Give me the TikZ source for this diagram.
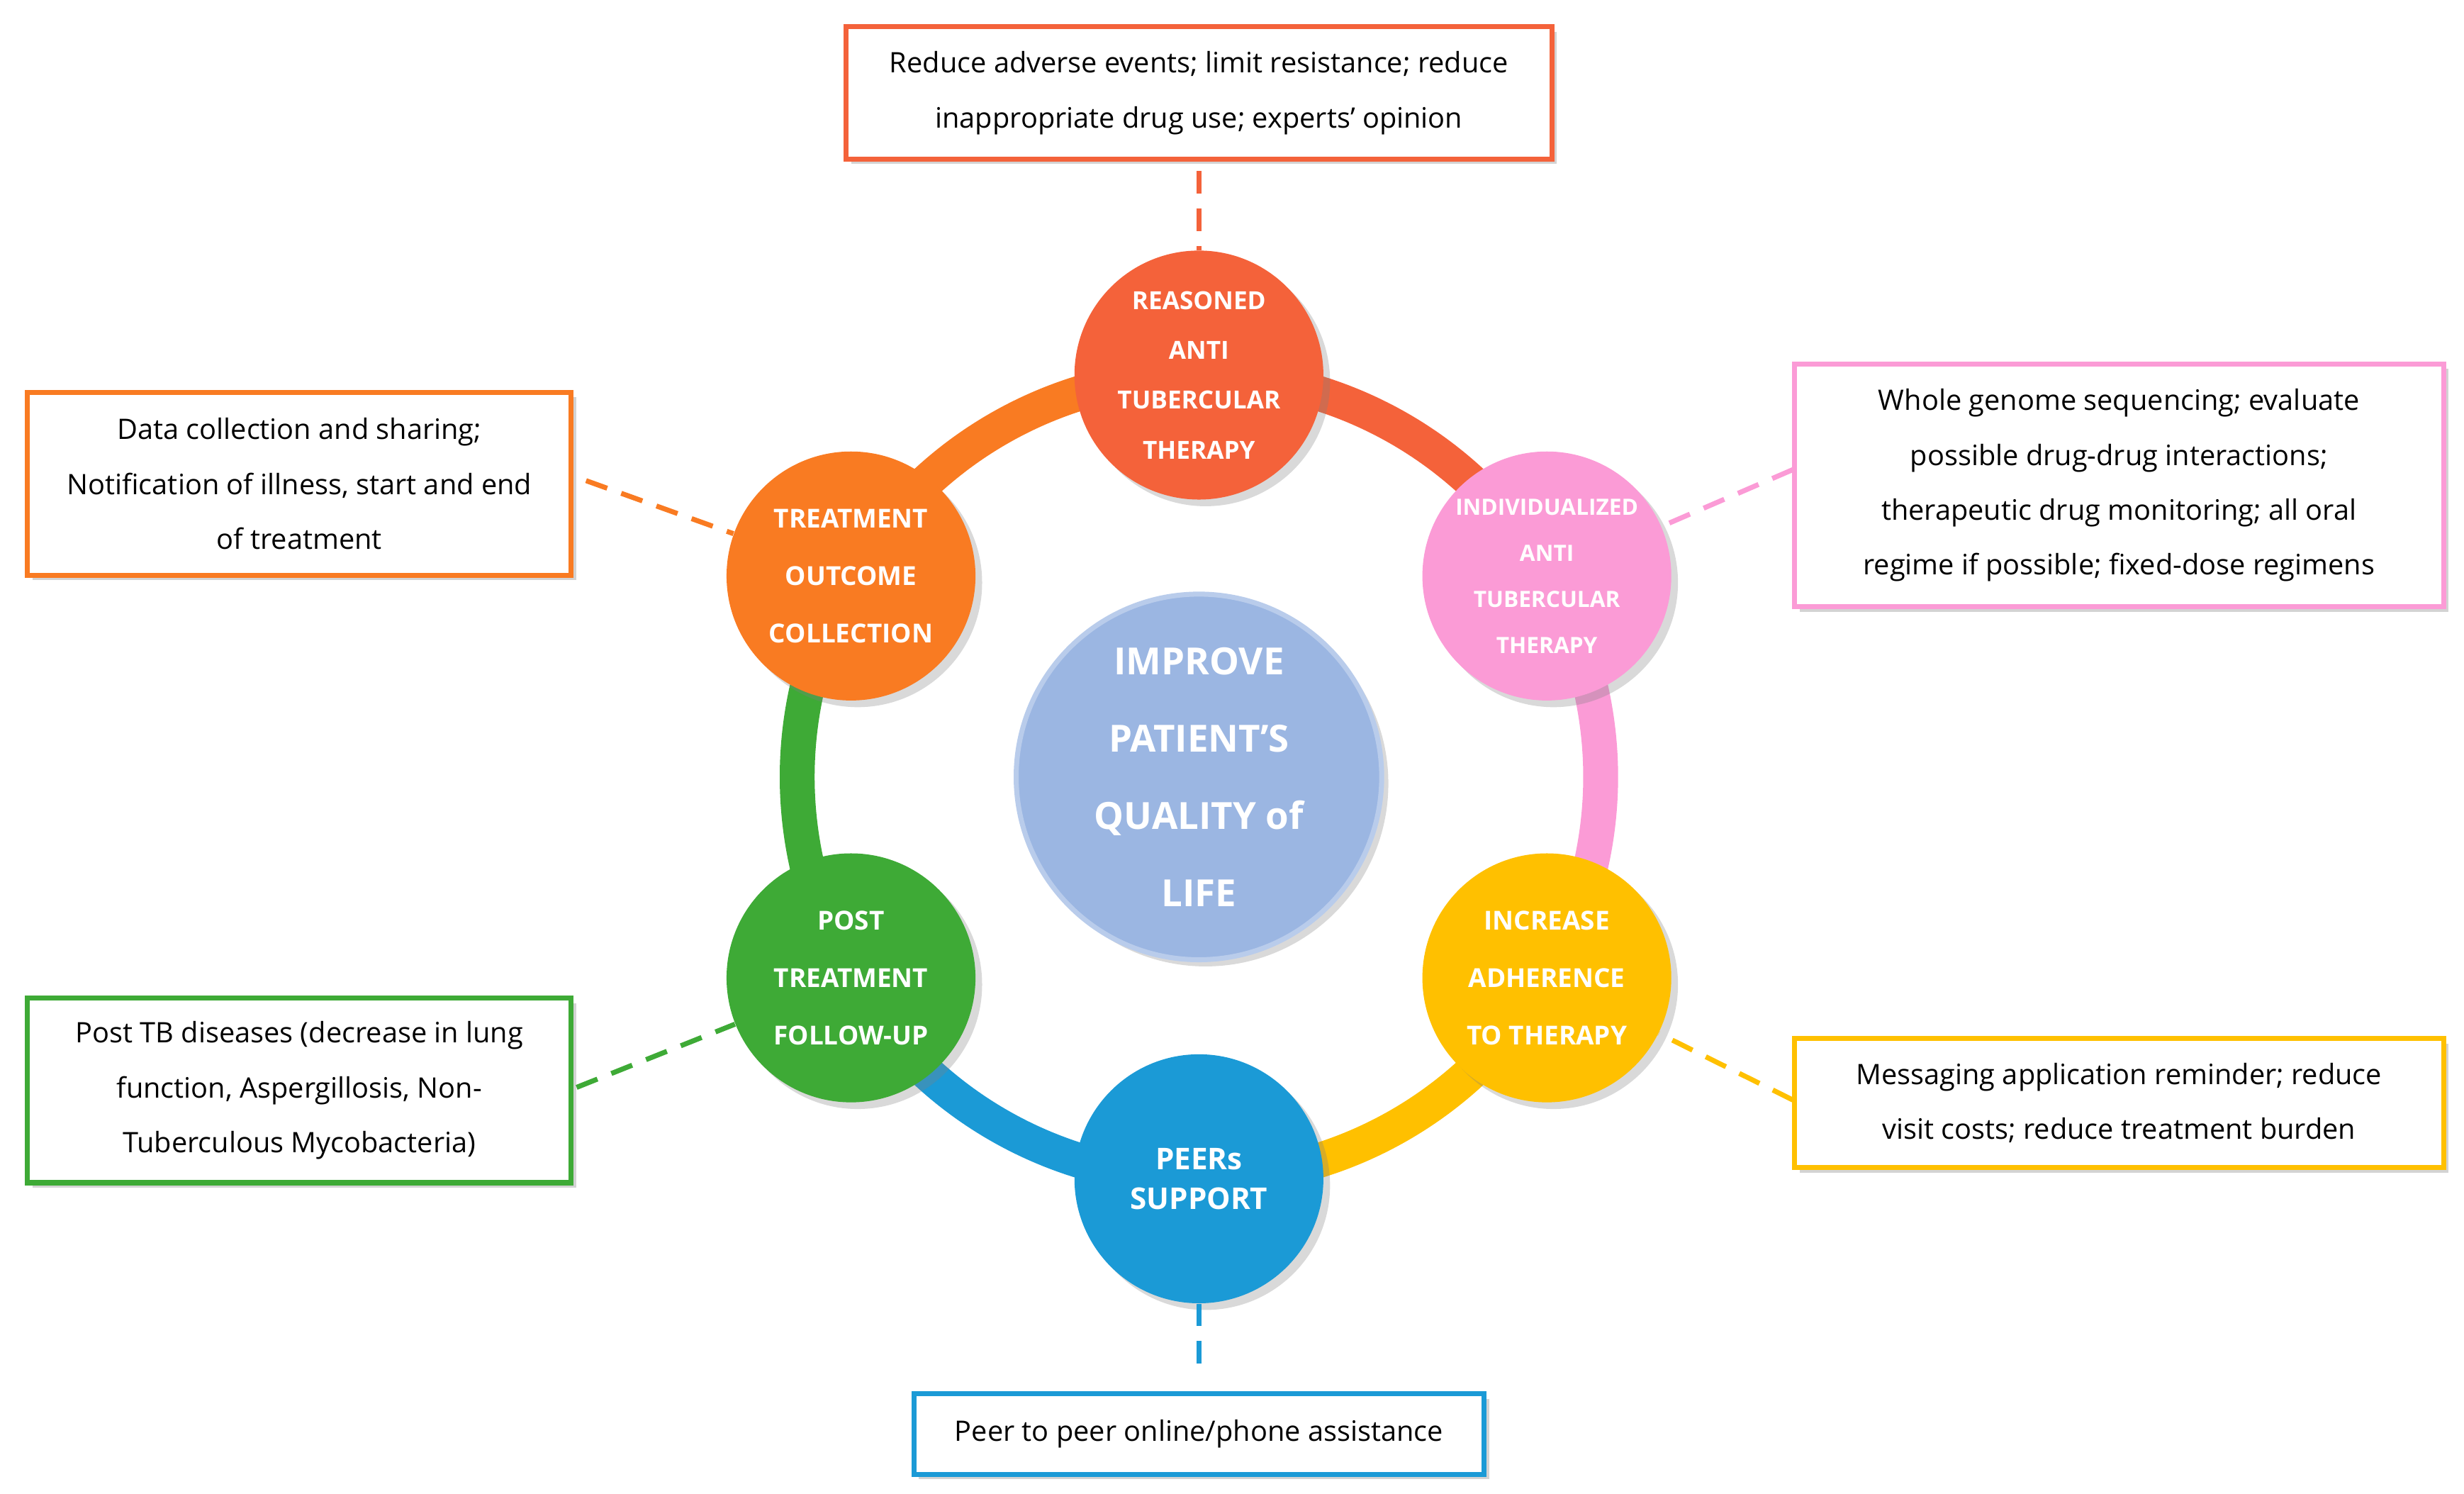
\documentclass[tikz,border=0pt]{standalone}
\usepackage{fontspec}
\setmainfont{Open Sans}
\usetikzlibrary{shadows}
\definecolor{cred}{HTML}{F4623A}
\definecolor{cpink}{HTML}{FB9BD6}
\definecolor{cyel}{HTML}{FFC000}
\definecolor{cblue}{HTML}{1B9AD6}
\definecolor{cgreen}{HTML}{3EAA36}
\definecolor{corg}{HTML}{F97B22}
\definecolor{ccen}{HTML}{9BB6E2}
\begin{document}
\begin{tikzpicture}[x=0.02222cm,y=0.02222cm,
  circ/.style={circle,minimum size=158*0.02222cm,inner sep=0pt,fill=#1,text=white,font=\fontsize{10}{20}\selectfont\bfseries,align=center,drop shadow={opacity=0.3}},
  box/.style={draw=#1,line width=2pt,fill=white,align=center,font=\fontsize{11.3}{22}\selectfont,inner sep=0pt,drop shadow={opacity=0.35,shadow xshift=2pt,shadow yshift=-2pt}},
  dash/.style={draw=#1,line width=2pt,dash pattern=on 9pt off 6pt},
  ring/.style={draw=#1,line width=14pt}]
\useasboundingbox (0,0) rectangle (1564,948);
\coordinate (C) at (761,455);
% ring arcs
\draw[ring=cred] ([shift={(90:255)}]C) arc[start angle=90,end angle=30,radius=255];
\draw[ring=cpink] ([shift={(30:255)}]C) arc[start angle=30,end angle=-30,radius=255];
\draw[ring=cyel] ([shift={(-30:255)}]C) arc[start angle=-30,end angle=-90,radius=255];
\draw[ring=cblue] ([shift={(-90:255)}]C) arc[start angle=-90,end angle=-150,radius=255];
\draw[ring=cgreen] ([shift={(-150:255)}]C) arc[start angle=-150,end angle=-210,radius=255];
\draw[ring=corg] ([shift={(150:255)}]C) arc[start angle=150,end angle=90,radius=255];
% center
\node[circle,minimum size=232*0.02222cm,inner sep=0pt,fill=ccen,draw=ccen!70!white,line width=2pt,text=white,font=\fontsize{15}{31}\selectfont\bfseries,align=center,drop shadow={opacity=0.3}] (cen) at (C) {IMPROVE\\PATIENT’S\\QUALITY of\\LIFE};
% nodes
\node[circ=cred] (n1) at ([shift={(90:255)}]C) {REASONED\\ANTI\\TUBERCULAR\\THERAPY};
\node[circ=cpink,font=\fontsize{9}{18.5}\selectfont\bfseries] (n2) at ([shift={(30:255)}]C) {INDIVIDUALIZED\\ANTI\\TUBERCULAR\\THERAPY};
\node[circ=cyel,font=\fontsize{10.5}{23}\selectfont\bfseries] (n3) at ([shift={(-30:255)}]C) {INCREASE\\ADHERENCE\\TO THERAPY};
\node[circ=cblue,font=\fontsize{12}{16}\selectfont\bfseries] (n4) at ([shift={(-90:255)}]C) {PEERs\\SUPPORT};
\node[circ=cgreen,font=\fontsize{10.5}{23}\selectfont\bfseries] (n5) at ([shift={(-150:255)}]C) {POST\\TREATMENT\\FOLLOW-UP};
\node[circ=corg,font=\fontsize{10.5}{23}\selectfont\bfseries] (n6) at ([shift={(150:255)}]C) {TREATMENT\\OUTCOME\\COLLECTION};
% boxes
\node[box=cred,minimum width=448*0.02222cm,minimum height=84*0.02222cm] (b1) at (761,889) {Reduce adverse events; limit resistance; reduce\\inappropriate drug use; experts' opinion};
\node[box=cpink,minimum width=412*0.02222cm,minimum height=154*0.02222cm] (b2) at (1345,640) {Whole genome sequencing; evaluate\\possible drug-drug interactions;\\therapeutic drug monitoring; all oral\\regime if possible; fixed-dose regimens};
\node[box=cyel,minimum width=412*0.02222cm,minimum height=82*0.02222cm] (b3) at (1345,248) {Messaging application reminder; reduce\\visit costs; reduce treatment burden};
\node[box=cblue,minimum width=362*0.02222cm,minimum height=51*0.02222cm] (b4) at (761,38) {Peer to peer online/phone assistance};
\node[box=cgreen,minimum width=345*0.02222cm,minimum height=117*0.02222cm] (b5) at (190,256) {Post TB diseases (decrease in lung\\function, Aspergillosis, Non-\\Tuberculous Mycobacteria)};
\node[box=corg,minimum width=345*0.02222cm,minimum height=116*0.02222cm] (b6) at (190,641) {Data collection and sharing;\\Notification of illness, start and end\\of treatment};
% dashed connectors
\draw[dash=cred] (b1.south) ++(0,-6) -- (n1.north);
\draw[dash=cpink] (1138,650) -- (n2);
\draw[dash=cyel] (1138,250) -- (n3);
\draw[dash=cblue] (n4.south) -- ([yshift=6]b4.north);
\draw[dash=cgreen] (366,258) -- (n5);
\draw[dash=corg] (372,643) -- (n6);
\end{tikzpicture}
\end{document}
